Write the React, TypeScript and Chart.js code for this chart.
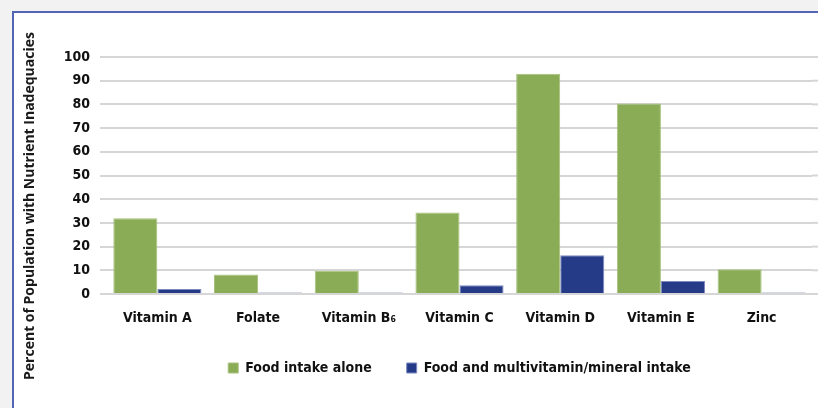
import React, { useEffect, useRef } from "react";
import { Chart, registerables } from "chart.js";

Chart.register(...registerables);

const categories = ["Vitamin A", "Folate", "Vitamin B\u2086", "Vitamin C", "Vitamin D", "Vitamin E", "Zinc"];
const foodAlone = [32, 8.2, 9.8, 34.4, 92.9, 80.4, 10.4];
const foodAndSupplement = [2.1, 0.6, 0.6, 3.7, 16.4, 5.5, 0.6];
const seriesNames = ["Food intake alone", "Food and multivitamin/mineral intake"];
const yTitle = "Percent of Population with Nutrient Inadequacies";

const FONT = "'Liberation Sans Narrow', 'DejaVu Sans Condensed', Roboto, sans-serif";

const yTitlePlugin = {
  id: "yTitlePlugin",
  afterDraw(chart: any) {
    const ctx = chart.ctx;
    ctx.save();
    ctx.translate(30, 206);
    ctx.rotate(-Math.PI / 2);
    ctx.font = "bold 14px 'Open Sans', sans-serif";
    ctx.fillStyle = "#1a1a1a";
    ctx.textAlign = "center";
    ctx.textBaseline = "middle";
    ctx.fillText(yTitle, 0, 0);
    ctx.restore();
  },
};

const gridExtendPlugin = {
  id: "gridExtendPlugin",
  beforeDatasetsDraw(chart: any) {
    const { ctx, chartArea, scales } = chart;
    const y = scales.y;
    ctx.save();
    ctx.strokeStyle = "#d6d6d6";
    ctx.lineWidth = 2;
    y.ticks.forEach((t: any) => {
      const py = y.getPixelForValue(t.value);
      ctx.beginPath();
      ctx.moveTo(chartArea.right, py);
      ctx.lineTo(chart.width, py);
      ctx.stroke();
    });
    ctx.restore();
  },
};

export default function App() {
  const ref = useRef<HTMLCanvasElement | null>(null);
  useEffect(() => {
    if (!ref.current) return;
    const chart = new Chart(ref.current, {
      type: "bar",
      data: {
        labels: categories,
        datasets: [
          {
            label: seriesNames[0],
            data: foodAlone,
            backgroundColor: "#8aac56",
            borderColor: "#a6c27c",
            borderWidth: 1,
          },
          {
            label: seriesNames[1],
            data: foodAndSupplement,
            backgroundColor: "#253b87",
            borderColor: "#7d89c1",
            borderWidth: 1,
          },
        ],
      },
      options: {
        responsive: false,
        animation: false,
        layout: { padding: { left: 0, right: 6, top: 57, bottom: 23 } },
        datasets: { bar: { categoryPercentage: 0.875, barPercentage: 1.0 } },
        plugins: {
          tooltip: { enabled: false },
          legend: {
            position: "bottom",
            fullSize: false,
            labels: {
              boxWidth: 10,
              boxHeight: 10,
              padding: 35,
              color: "#111",
              font: { family: FONT, size: 14, weight: "bold" },
            },
          },
        },
        scales: {
          x: {
            grid: { display: false, drawTicks: false },
            border: { display: false },
            ticks: {
              color: "#111",
              padding: 16,
              font: { family: FONT, size: 14, weight: "bold" },
              maxRotation: 0,
              autoSkip: false,
            },
            afterFit: (s: any) => {
              s.height = 32;
            },
          },
          y: {
            min: 0,
            max: 100,
            grid: { color: "#d6d6d6", lineWidth: 2, tickLength: 7 },
            border: { display: false },
            ticks: {
              stepSize: 10,
              color: "#111",
              padding: 10,
              font: { family: FONT, size: 14, weight: "bold" },
            },
            afterFit: (s: any) => {
              s.width = 107;
            },
          },
        },
      },
      plugins: [yTitlePlugin, gridExtendPlugin],
    });
    return () => chart.destroy();
  }, []);

  return (
    <div style={{ position: "fixed", left: 0, top: 0, width: 818, height: 408, background: "#f2f2f2", overflow: "hidden" }}>
      <div
        style={{
          position: "absolute",
          left: 12,
          top: 11,
          width: 830,
          height: 420,
          background: "#ffffff",
          borderLeft: "2px solid #5366b3",
          borderTop: "2px solid #5366b3",
        }}
      />
      <canvas ref={ref} width={818} height={408} style={{ position: "absolute", left: 0, top: 0, width: 818, height: 408 }} />
    </div>
  );
}
